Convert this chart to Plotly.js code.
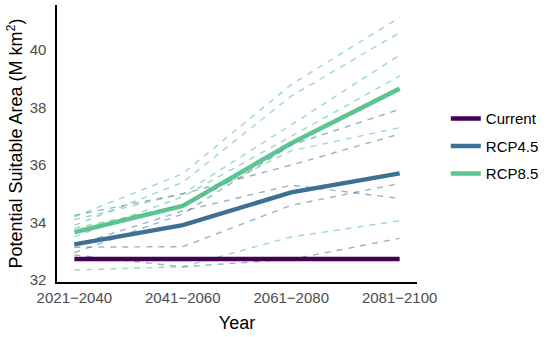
<!DOCTYPE html>
<html>
<head>
<meta charset="utf-8">
<script src="https://cdn.plot.ly/plotly-3.0.1.min.js"></script>
<style>html,body{margin:0;padding:0;background:#fff;}#chart{width:550px;height:337px;}</style>
</head>
<body>
<div id="chart"></div>
<script>
const periods = ["2021−2040", "2041−2060", "2061−2080", "2081−2100"];
const current = [32.73, 32.73, 32.73, 32.73];
const rcp45 = [33.24, 33.91, 35.05, 35.71];
const rcp85 = [33.66, 34.58, 36.76, 38.66];
// individual model projections (dashed)
const rcp45_m1 = [32.95, 34.30, 36.70, 37.94];
const rcp45_m2 = [34.25, 35.00, 36.00, 37.08];
const rcp45_m3 = [33.14, 33.16, 34.60, 35.36];
const rcp45_m4 = [33.20, 34.40, 35.30, 34.84];
const rcp45_m5 = [32.87, 32.46, 32.72, 33.45];
const rcp85_m1 = [34.20, 35.70, 38.80, 41.14];
const rcp85_m2 = [33.90, 35.40, 38.40, 40.61];
const rcp85_m3 = [34.10, 35.00, 37.40, 39.83];
const rcp85_m4 = [33.50, 34.90, 37.00, 39.10];
const rcp85_m5 = [33.80, 34.60, 36.50, 37.30];
const rcp85_m6 = [32.35, 32.46, 33.50, 34.06];

const cCur = "#440154", c45 = "#31688E", c85 = "#35B779";
const traces = [];
function dashed(y, col) {
  traces.push({x: periods, y: y, type: "scatter", mode: "lines", showlegend: false, hoverinfo: "skip",
    line: {color: col, width: 1.4, dash: "6px,6px"}, opacity: 0.5});
}
[rcp45_m1, rcp45_m2, rcp45_m3, rcp45_m4, rcp45_m5].forEach(s => dashed(s, c45));
[rcp85_m1, rcp85_m2, rcp85_m3, rcp85_m4, rcp85_m5, rcp85_m6].forEach(s => dashed(s, c85));
traces.push({x: periods, y: current, name: "Current", legendgroup: "a", type: "scatter", mode: "lines", line: {color: cCur, width: 4.5}});
traces.push({x: periods, y: rcp45, name: "RCP4.5", legendgroup: "b", type: "scatter", mode: "lines", line: {color: c45, width: 4.5}, opacity: 0.95});
traces.push({x: periods, y: rcp85, name: "RCP8.5", legendgroup: "c", type: "scatter", mode: "lines", line: {color: c85, width: 4.5}, opacity: 0.8});

const layout = {
  width: 550, height: 337,
  margin: {l: 57, r: 133, t: 5, b: 55},
  paper_bgcolor: "#fff", plot_bgcolor: "#fff",
  font: {family: "Liberation Sans, Arial, sans-serif", color: "#000"},
  showlegend: true,
  legend: {x: 1.08, xanchor: "left", y: 0.49, yanchor: "middle", font: {size: 15, color: "#000"},
    tracegroupgap: 5, itemwidth: 30, bgcolor: "rgba(0,0,0,0)"},
  xaxis: {type: "category", range: [-0.16, 3.16], showgrid: false, zeroline: false,
    showline: true, linecolor: "#000", linewidth: 1.6, ticks: "", ticklabelstandoff: 1,
    tickfont: {size: 15, color: "#4d4d4d"},
    title: {text: "Year", font: {size: 18, color: "#000"}, standoff: 12}},
  yaxis: {range: [31.93, 41.57], tickvals: [32, 34, 36, 38, 40], showgrid: false, zeroline: false,
    showline: true, linecolor: "#000", linewidth: 1.6, ticks: "", ticklabelstandoff: 6,
    tickfont: {size: 15, color: "#4d4d4d"},
    title: {text: "Potential Suitable Area (M km<sup>2</sup>)", font: {size: 18, color: "#000"}, standoff: 2}}
};
Plotly.newPlot("chart", traces, layout, {staticPlot: true, displayModeBar: false});
</script>
</body>
</html>
